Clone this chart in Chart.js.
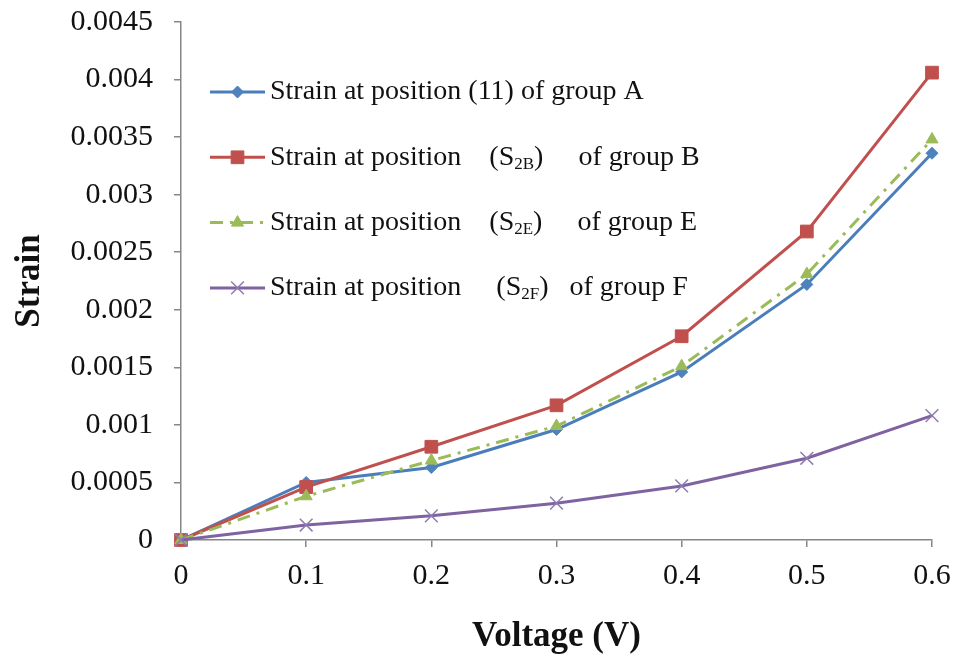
<!DOCTYPE html>
<html>
<head>
<meta charset="utf-8">
<script src="https://cdn.jsdelivr.net/npm/chart.js@4.4.1/dist/chart.umd.min.js"></script>
<style>
  html, body { margin: 0; padding: 0; background: #fff; }
  #wrap { width: 956px; height: 660px; }
</style>
</head>
<body>
<div id="wrap"><canvas id="myChart" width="956" height="660"></canvas></div>
<script>
// voltage steps and measured strain for each group
var voltage = [0, 0.1, 0.2, 0.3, 0.4, 0.5, 0.6];
var strainA = [0, 0.0005, 0.00063, 0.00096, 0.00146, 0.00222, 0.00336];
var strainB = [0, 0.00046, 0.00081, 0.00117, 0.00177, 0.00268, 0.00406];
var strainE = [0, 0.00038, 0.00069, 0.00099, 0.00151, 0.00231, 0.00348];
var strainF = [0, 0.00013, 0.00021, 0.00032, 0.00047, 0.00071, 0.00108];

var xTicks = [0, 0.1, 0.2, 0.3, 0.4, 0.5, 0.6];
var yTicks = [0, 0.0005, 0.001, 0.0015, 0.002, 0.0025, 0.003, 0.0035, 0.004, 0.0045];

// legend text, split so the subscripts can be drawn smaller
var legendRows = [
    [{t: "Strain at position (11) of group A"}],
    [{t: "Strain at position    (S"}, {t: "2B", sub: true}, {t: ")     of group B"}],
    [{t: "Strain at position    (S"}, {t: "2E", sub: true}, {t: ")     of group E"}],
    [{t: "Strain at position     (S"}, {t: "2F", sub: true}, {t: ")   of group F"}]
];

var serif = "'Liberation Serif', 'Times New Roman', serif";

function pts(ys){
    return voltage.map(function(v, i){ return {x: v, y: ys[i]}; });
}

var seriesLegend = {
    id: "seriesLegend",
    afterDraw: function(chart){
        var ctx = chart.ctx;
        var area = chart.chartArea;
        var x0 = area.left + 29, x1 = area.left + 84, tx = area.left + 89;
        chart.data.datasets.forEach(function(ds, i){
            var y = area.top + 70 + i * 65.3;
            ctx.save();
            ctx.strokeStyle = ds.borderColor;
            ctx.lineWidth = ds.borderWidth;
            ctx.setLineDash(ds.borderDash || []);
            ctx.beginPath();
            ctx.moveTo(x0, y);
            ctx.lineTo(x1, y);
            ctx.stroke();
            ctx.setLineDash([]);
            ctx.fillStyle = ds.pointBackgroundColor;
            ctx.strokeStyle = ds.pointBorderColor;
            ctx.lineWidth = ds.pointBorderWidth;
            Chart.helpers.drawPoint(ctx, {pointStyle: ds.pointStyle, radius: ds.pointRadius, rotation: 0, borderWidth: ds.pointBorderWidth}, (x0 + x1) / 2, y);

            ctx.fillStyle = "#111";
            ctx.textBaseline = "middle";
            ctx.textAlign = "left";
            var x = tx;
            legendRows[i].forEach(function(seg){
                ctx.font = (seg.sub ? "17px " : "28px ") + serif;
                ctx.fillText(seg.t, x, seg.sub ? y + 7 : y);
                x += ctx.measureText(seg.t).width;
            });
            ctx.restore();
        });
    }
};

const ctx = document.getElementById("myChart").getContext("2d");
var myChart = new Chart(ctx, {
    type: "line",
    data: {
        datasets: [{
            label: "Strain at position (11) of group A",
            data: pts(strainA),
            borderColor: "#4a7ebb",
            borderWidth: 3,
            pointStyle: "rectRot",
            pointRadius: 6,
            pointBackgroundColor: "#4f81bd",
            pointBorderColor: "#4f81bd",
            pointBorderWidth: 1,
            order: 4
        }, {
            label: "Strain at position (S2B) of group B",
            data: pts(strainB),
            borderColor: "#c0504d",
            borderWidth: 3,
            pointStyle: "rect",
            pointRadius: 9,
            pointBackgroundColor: "#c0504d",
            pointBorderColor: "#c0504d",
            pointBorderWidth: 1,
            order: 3
        }, {
            label: "Strain at position (S2E) of group E",
            data: pts(strainE),
            borderColor: "#9bbb59",
            borderWidth: 3,
            borderDash: [13, 7, 3, 7],
            pointStyle: "triangle",
            pointRadius: 7,
            pointBackgroundColor: "#9bbb59",
            pointBorderColor: "#9bbb59",
            pointBorderWidth: 1,
            order: 2
        }, {
            label: "Strain at position (S2F) of group F",
            data: pts(strainF),
            borderColor: "#7f63a1",
            borderWidth: 3,
            pointStyle: "crossRot",
            pointRadius: 9,
            pointBackgroundColor: "#8e7cb0",
            pointBorderColor: "#8e7cb0",
            pointBorderWidth: 1.5,
            order: 1
        }]
    },
    options: {
        responsive: false,
        animation: false,
        devicePixelRatio: 1,
        clip: false,
        elements: { line: { tension: 0 } },
        layout: { padding: { top: 22, right: 24, left: 0, bottom: 0 } },
        plugins: {
            legend: { display: false },
            tooltip: { enabled: false }
        },
        scales: {
            x: {
                type: "linear",
                min: 0,
                max: 0.6,
                afterFit: function(s){
                    s.height = 120;
                    s.paddingLeft = 0;
                    s.paddingRight = 0;
                },
                afterBuildTicks: function(s){ s.ticks = xTicks.map(function(v){ return {value: v}; }); },
                border: { color: "#868686", width: 1.5 },
                grid: { drawOnChartArea: false, drawTicks: true, tickLength: 7, color: "#868686", lineWidth: 1.5 },
                ticks: {
                    color: "#111",
                    padding: 11,
                    maxRotation: 0,
                    font: { family: serif, size: 30 },
                    callback: function(v){ return String(Number(v.toFixed(1))); }
                },
                title: {
                    display: true,
                    text: "Voltage (V)",
                    color: "#111",
                    padding: { top: 0, bottom: 2 },
                    font: { family: serif, size: 35, weight: "bold", lineHeight: 1.2 }
                }
            },
            y: {
                min: 0,
                max: 0.0045,
                afterFit: function(s){
                    s.width = 181;
                    s.paddingTop = 0;
                    s.paddingBottom = 0;
                },
                afterBuildTicks: function(s){ s.ticks = yTicks.map(function(v){ return {value: v}; }); },
                border: { color: "#868686", width: 1.5 },
                grid: { drawOnChartArea: false, drawTicks: true, tickLength: 7, color: "#868686", lineWidth: 1.5 },
                ticks: {
                    color: "#111",
                    padding: 21,
                    font: { family: serif, size: 30 },
                    callback: function(v){ return String(Number(v.toFixed(4))); }
                },
                title: {
                    display: true,
                    text: "Strain",
                    color: "#111",
                    padding: { top: 9, bottom: 0 },
                    font: { family: serif, size: 35, weight: "bold", lineHeight: 1.2 }
                }
            }
        }
    },
    plugins: [seriesLegend]
});
</script>
</body>
</html>
